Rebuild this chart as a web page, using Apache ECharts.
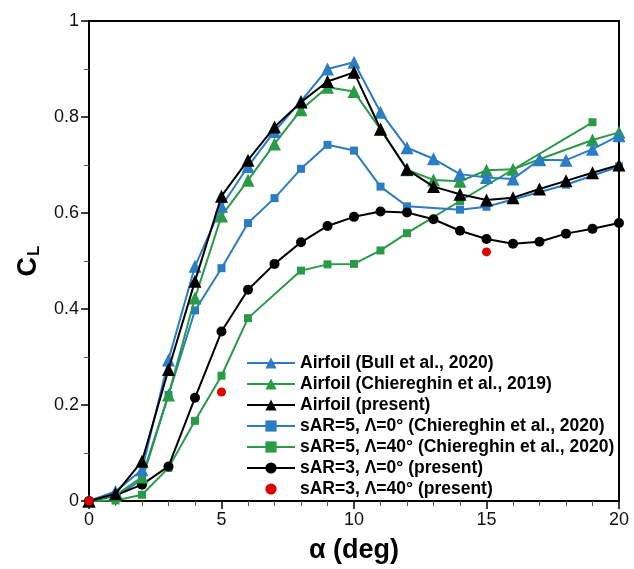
<!DOCTYPE html>
<html>
<head>
<meta charset="utf-8">
<script src="https://cdn.jsdelivr.net/npm/echarts@6/dist/echarts.min.js"></script>
<style>
html,body{margin:0;padding:0;background:#fff;}
#chart{width:634px;height:569px;}
</style>
</head>
<body>
<div id="chart"></div>
<script>
// ---- data ----
const alphaFull = [0,1,2,3,4,5,6,7,8,9,10,11,12,13,14,15,16,17,18,19,20];

const bullAlpha = alphaFull;
const bullCL = [0,0.020,0.065,0.294,0.489,0.614,0.697,0.770,0.833,0.900,0.914,0.810,0.736,0.713,0.681,0.674,0.671,0.711,0.710,0.733,0.761];

const chi2019Alpha = [0,1,2,3,4,5,6,7,8,9,10,11,12,13,14,15,16,17,19,20];
const chi2019CL = [0,0.012,0.050,0.221,0.423,0.594,0.668,0.744,0.815,0.862,0.853,0.774,0.690,0.669,0.666,0.689,0.691,0.712,0.752,0.768];

const presentAlpha = alphaFull;
const presentCL = [0,0.015,0.083,0.274,0.458,0.635,0.710,0.779,0.831,0.874,0.893,0.775,0.691,0.655,0.639,0.627,0.632,0.650,0.667,0.684,0.700];

const sar5L0Alpha = [0,1,2,3,4,5,6,7,8,9,10,11,12,14,15,18,20];
const sar5L0CL = [0,0.010,0.044,0.221,0.397,0.485,0.579,0.631,0.692,0.742,0.730,0.655,0.614,0.607,0.613,0.659,0.697];

const sar5L40Alpha = [0,1,2,3,4,5,6,8,9,10,11,12,14,19];
const sar5L40CL = [0,0.001,0.013,0.069,0.167,0.261,0.381,0.480,0.493,0.494,0.522,0.558,0.625,0.789];

const sar3L0Alpha = alphaFull;
const sar3L0CL = [0,0.012,0.034,0.072,0.215,0.353,0.440,0.494,0.539,0.573,0.592,0.603,0.601,0.587,0.563,0.546,0.536,0.540,0.557,0.567,0.579];

const sar3L40Alpha = [0,5,15];
const sar3L40CL = [0,0.227,0.519];

const xTicks = [0,5,10,15,20];
const yTicks = [0,0.2,0.4,0.6,0.8,1];

const names = [
  'Airfoil (Bull et al., 2020)',
  'Airfoil (Chiereghin et al., 2019)',
  'Airfoil (present)',
  'sAR=5, \u039B=0\u00B0 (Chiereghin et al., 2020)',
  'sAR=5, \u039B=40\u00B0 (Chiereghin et al., 2020)',
  'sAR=3, \u039B=0\u00B0 (present)',
  'sAR=3, \u039B=40\u00B0 (present)'
];

const BLUE = '#2b7cc0', GREEN = '#2a9a48', BLACK = '#000000', RED = '#e00000';

function pairs(xs, ys){ return xs.map((x,i)=>[x, ys[i]]); }

function lineSeries(name, xs, ys, color, symbol, size, z){
  return {
    name: name, type: 'line', data: pairs(xs, ys),
    symbol: symbol, symbolSize: size, showSymbol: true,
    lineStyle: {color: color, width: 2},
    itemStyle: {color: color},
    z: z, animation: false
  };
}

const chart = echarts.init(document.getElementById('chart'), null, {renderer:'canvas'});
const FONT = 'Liberation Sans, Arial, sans-serif';

chart.setOption({
  backgroundColor: '#fff',
  animation: false,
  grid: {left: 89, right: 15, top: 21, bottom: 68, show: true, borderColor: '#000', borderWidth: 2, containLabel: false},
  xAxis: {
    type: 'value', min: 0, max: 20, interval: 5,
    axisLine: {show: true, onZero: false, lineStyle: {color: '#000', width: 2}},
    axisTick: {show: true, inside: false, length: 8, lineStyle: {color: '#000', width: 1.5}},
    minorTick: {show: true, splitNumber: 5, length: 5, lineStyle: {color: '#555', width: 1}},
    splitLine: {show: false},
    axisLabel: {fontFamily: FONT, fontSize: 18, color: '#111', margin: 10,
      formatter: v => xTicks.includes(v) ? String(v) : ''},
    name: '\u03B1 (deg)', nameLocation: 'middle', nameGap: 36,
    nameTextStyle: {fontFamily: FONT, fontSize: 27, fontWeight: 'bold', color: '#000'}
  },
  yAxis: {
    type: 'value', min: 0, max: 1, interval: 0.2,
    axisLine: {show: true, onZero: false, lineStyle: {color: '#000', width: 2}},
    axisTick: {show: true, inside: false, length: 8, lineStyle: {color: '#000', width: 1.5}},
    minorTick: {show: true, splitNumber: 2, length: 5, lineStyle: {color: '#555', width: 1}},
    splitLine: {show: false},
    axisLabel: {fontFamily: FONT, fontSize: 18, color: '#111', margin: 10,
      formatter: v => { const t = yTicks.find(y => Math.abs(y - v) < 1e-9); return t === undefined ? '' : String(t); }},
    name: '{c|C}{l|L}', nameLocation: 'middle', nameGap: 46, nameRotate: 90,
    nameTextStyle: {
      rich: {
        c: {fontFamily: FONT, fontSize: 27, fontWeight: 'bold', color: '#000'},
        l: {fontFamily: FONT, fontSize: 17, fontWeight: 'bold', color: '#000', padding: [12,0,0,1]}
      }
    }
  },
  legend: {
    orient: 'vertical', left: 246, top: 354, padding: 0,
    itemWidth: 48, itemHeight: 14, itemGap: 3,
    textStyle: {fontFamily: FONT, fontSize: 17.5, fontWeight: 'bold', color: '#000'},
    data: names
  },
  series: [
    lineSeries(names[4], sar5L40Alpha, sar5L40CL, GREEN, 'rect', 8, 2),
    lineSeries(names[3], sar5L0Alpha, sar5L0CL, BLUE, 'rect', 8, 3),
    lineSeries(names[5], sar3L0Alpha, sar3L0CL, BLACK, 'circle', 10, 4),
    lineSeries(names[1], chi2019Alpha, chi2019CL, GREEN, 'triangle', 13, 5),
    lineSeries(names[0], bullAlpha, bullCL, BLUE, 'triangle', 13, 6),
    lineSeries(names[2], presentAlpha, presentCL, BLACK, 'triangle', 13, 7),
    {
      name: names[6], type: 'line', data: pairs(sar3L40Alpha, sar3L40CL),
      symbol: 'circle', symbolSize: 9, showSymbol: true,
      lineStyle: {width: 0, opacity: 0}, itemStyle: {color: RED}, z: 8, animation: false
    }
  ]
});
</script>
</body>
</html>
